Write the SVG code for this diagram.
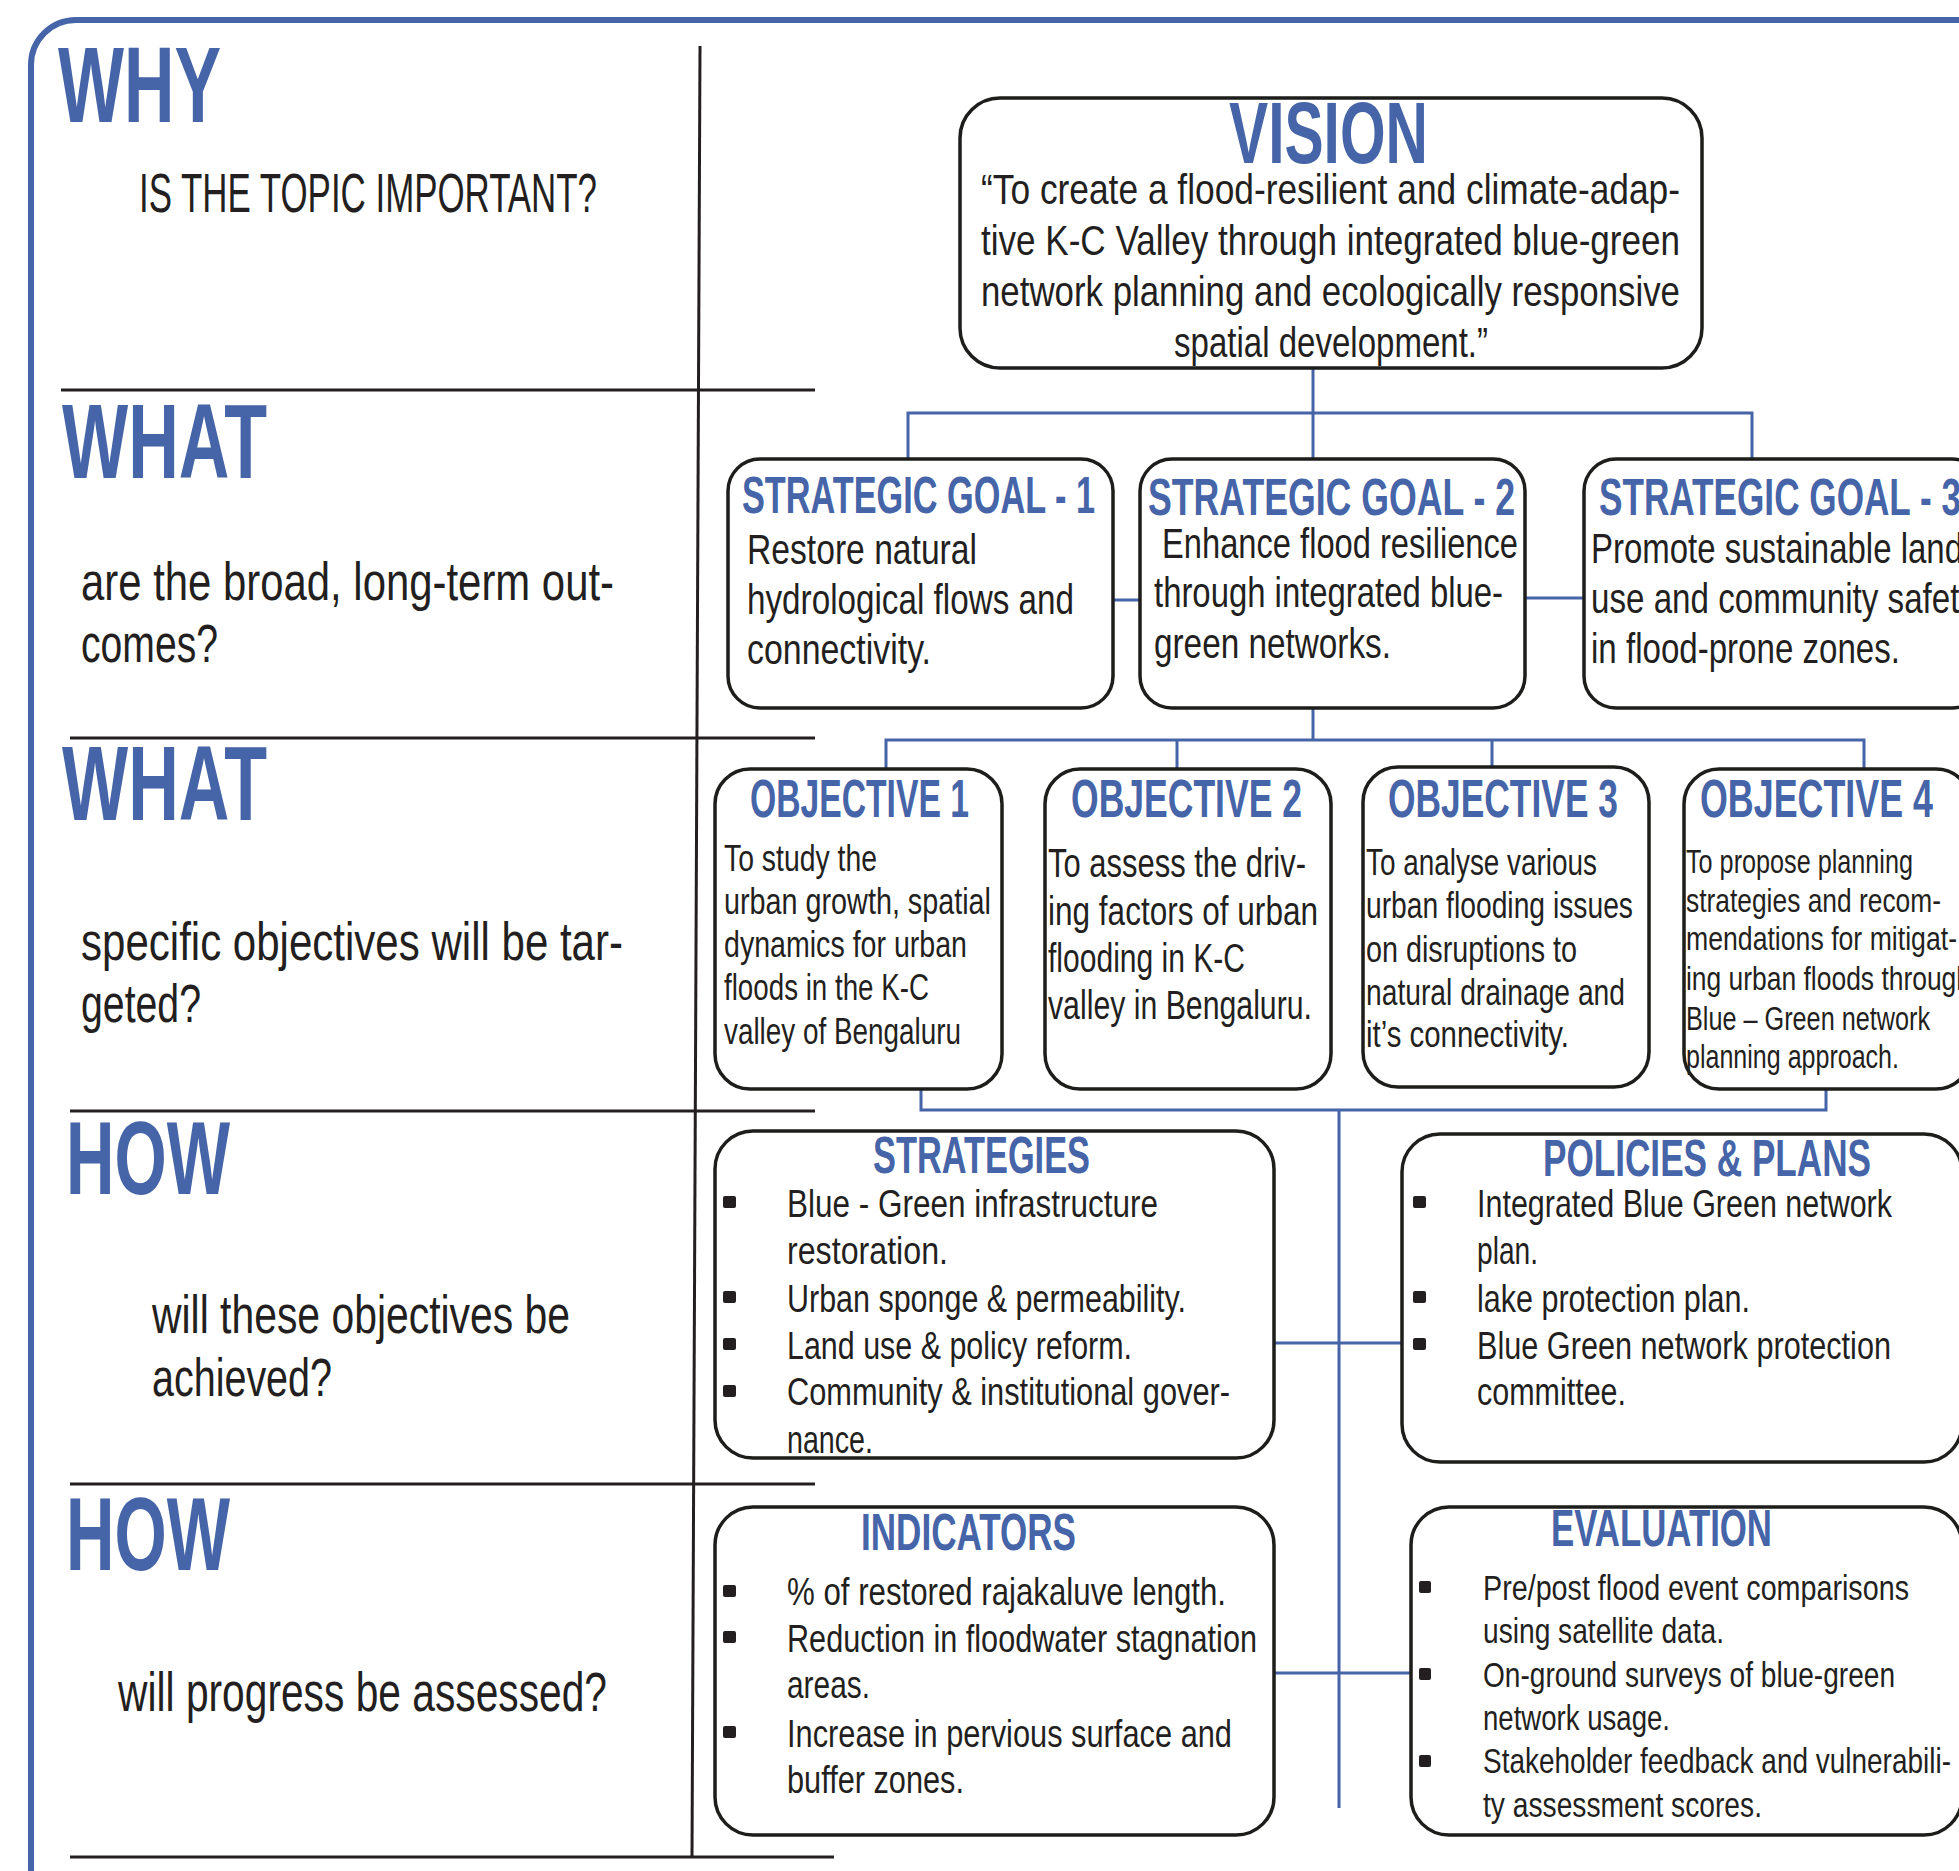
<svg xmlns="http://www.w3.org/2000/svg" width="1959" height="1871" viewBox="0 0 1959 1871">
  <defs>
    <style>
      .frame{fill:none;stroke:#4664a8;stroke-width:6}
      .rule{fill:none;stroke:#231f20;stroke-width:3}
      .conn{fill:none;stroke:#4664a8;stroke-width:3}
      .box{fill:#ffffff;stroke:#1d1d1b;stroke-width:3.5}
      .hd{font-family:"Liberation Sans Narrow","Liberation Sans","DejaVu Sans",sans-serif;font-weight:bold;fill:#4664a8}
      .tx{font-family:"Liberation Sans Narrow","Liberation Sans","DejaVu Sans",sans-serif;fill:#231f20}
      .bul{fill:#231f20}
    </style>
  </defs>
  <rect width="1959" height="1871" fill="#ffffff"/>

  <!-- outer frame -->
  <path class="frame" d="M31 1880 V65 A45 45 0 0 1 76 20 H1975"/>

  <!-- question column rules -->
  <g id="rules">
    <path class="rule" d="M700 46 L692 1857"/>
    <path class="rule" d="M61 390 H815"/>
    <path class="rule" d="M70 738 H815"/>
    <path class="rule" d="M70 1111 H815"/>
    <path class="rule" d="M70 1484 H815"/>
    <path class="rule" d="M70 1857 H834"/>
  </g>

  <!-- question labels -->
  <g id="q-why">
    <text class="hd" x="58" y="122" font-size="107" textLength="163" lengthAdjust="spacingAndGlyphs">WHY</text>
    <text class="tx" x="139" y="212" font-size="56" textLength="458" lengthAdjust="spacingAndGlyphs">IS THE TOPIC IMPORTANT?</text>
  </g>
  <g id="q-what-goals">
    <text class="hd" x="62" y="478" font-size="106" textLength="205" lengthAdjust="spacingAndGlyphs">WHAT</text>
    <text class="tx" x="81" y="600" font-size="54" textLength="533" lengthAdjust="spacingAndGlyphs">are the broad, long-term out-</text>
    <text class="tx" x="81" y="662" font-size="54" textLength="137" lengthAdjust="spacingAndGlyphs">comes?</text>
  </g>
  <g id="q-what-objectives">
    <text class="hd" x="62" y="820" font-size="106" textLength="205" lengthAdjust="spacingAndGlyphs">WHAT</text>
    <text class="tx" x="81" y="960" font-size="54" textLength="542" lengthAdjust="spacingAndGlyphs">specific objectives will be tar-</text>
    <text class="tx" x="81" y="1022" font-size="54" textLength="120" lengthAdjust="spacingAndGlyphs">geted?</text>
  </g>
  <g id="q-how-achieve">
    <text class="hd" x="66" y="1194" font-size="103" textLength="164" lengthAdjust="spacingAndGlyphs">HOW</text>
    <text class="tx" x="152" y="1333" font-size="54" textLength="418" lengthAdjust="spacingAndGlyphs">will these objectives be</text>
    <text class="tx" x="152" y="1396" font-size="54" textLength="180" lengthAdjust="spacingAndGlyphs">achieved?</text>
  </g>
  <g id="q-how-assess">
    <text class="hd" x="66" y="1570" font-size="103" textLength="164" lengthAdjust="spacingAndGlyphs">HOW</text>
    <text class="tx" x="118" y="1711" font-size="55" textLength="489" lengthAdjust="spacingAndGlyphs">will progress be assessed?</text>
  </g>

  <!-- connectors -->
  <g id="connectors">
    <path class="conn" d="M1313 368 V413"/>
    <path class="conn" d="M908 459 V413 H1752 V459"/>
    <path class="conn" d="M1313 413 V459"/>
    <path class="conn" d="M1113 600 H1140"/>
    <path class="conn" d="M1525 598 H1584"/>
    <path class="conn" d="M1313 708 V740"/>
    <path class="conn" d="M886 769 V740 H1864 V769"/>
    <path class="conn" d="M1177 740 V769"/>
    <path class="conn" d="M1492 740 V767"/>
    <path class="conn" d="M921 1089 V1110 H1826 V1089"/>
    <path class="conn" d="M1339 1110 V1808"/>
    <path class="conn" d="M1274 1343 H1402"/>
    <path class="conn" d="M1274 1673 H1411"/>
  </g>

  <!-- vision -->
  <g id="vision">
    <rect class="box" x="960" y="98" width="742" height="270" rx="40"/>
    <text class="hd" x="1229" y="163" font-size="88" textLength="199" lengthAdjust="spacingAndGlyphs">VISION</text>
    <text class="tx" x="981" y="204" font-size="42" textLength="699" lengthAdjust="spacingAndGlyphs">“To create a flood-resilient and climate-adap-</text>
    <text class="tx" x="981" y="255" font-size="42" textLength="699" lengthAdjust="spacingAndGlyphs">tive K-C Valley through integrated blue-green</text>
    <text class="tx" x="981" y="306" font-size="42" textLength="699" lengthAdjust="spacingAndGlyphs">network planning and ecologically responsive</text>
    <text class="tx" x="1174" y="357" font-size="42" textLength="314" lengthAdjust="spacingAndGlyphs">spatial development.”</text>
  </g>

  <!-- strategic goals -->
  <g id="goal-1">
    <rect class="box" x="728" y="459" width="385" height="249" rx="32"/>
    <text class="hd" x="742" y="513" font-size="51" textLength="353" lengthAdjust="spacingAndGlyphs">STRATEGIC GOAL - 1</text>
    <text class="tx" x="747" y="564" font-size="43" textLength="230" lengthAdjust="spacingAndGlyphs">Restore natural</text>
    <text class="tx" x="747" y="614" font-size="43" textLength="327" lengthAdjust="spacingAndGlyphs">hydrological flows and</text>
    <text class="tx" x="747" y="664" font-size="43" textLength="184" lengthAdjust="spacingAndGlyphs">connectivity.</text>
  </g>
  <g id="goal-2">
    <rect class="box" x="1140" y="459" width="385" height="249" rx="32"/>
    <text class="hd" x="1148" y="515" font-size="51" textLength="367" lengthAdjust="spacingAndGlyphs">STRATEGIC GOAL - 2</text>
    <text class="tx" x="1162" y="558" font-size="43" textLength="356" lengthAdjust="spacingAndGlyphs">Enhance flood resilience</text>
    <text class="tx" x="1154" y="607" font-size="43" textLength="349" lengthAdjust="spacingAndGlyphs">through integrated blue-</text>
    <text class="tx" x="1154" y="658" font-size="43" textLength="237" lengthAdjust="spacingAndGlyphs">green networks.</text>
  </g>
  <g id="goal-3">
    <rect class="box" x="1584" y="459" width="400" height="249" rx="32"/>
    <text class="hd" x="1599" y="515" font-size="51" textLength="362" lengthAdjust="spacingAndGlyphs">STRATEGIC GOAL - 3</text>
    <text class="tx" x="1591" y="563" font-size="43" textLength="372" lengthAdjust="spacingAndGlyphs">Promote sustainable land</text>
    <text class="tx" x="1591" y="613" font-size="43" textLength="385" lengthAdjust="spacingAndGlyphs">use and community safety</text>
    <text class="tx" x="1591" y="663" font-size="43" textLength="309" lengthAdjust="spacingAndGlyphs">in flood-prone zones.</text>
  </g>

  <!-- objectives -->
  <g id="objective-1">
    <rect class="box" x="715" y="769" width="287" height="320" rx="35"/>
    <text class="hd" x="750" y="817" font-size="53" textLength="219" lengthAdjust="spacingAndGlyphs">OBJECTIVE 1</text>
    <text class="tx" x="724" y="871" font-size="37" textLength="153" lengthAdjust="spacingAndGlyphs">To study the</text>
    <text class="tx" x="724" y="914" font-size="37" textLength="267" lengthAdjust="spacingAndGlyphs">urban growth, spatial</text>
    <text class="tx" x="724" y="957" font-size="37" textLength="243" lengthAdjust="spacingAndGlyphs">dynamics for urban</text>
    <text class="tx" x="724" y="1000" font-size="37" textLength="205" lengthAdjust="spacingAndGlyphs">floods in the K-C</text>
    <text class="tx" x="724" y="1044" font-size="37" textLength="237" lengthAdjust="spacingAndGlyphs">valley of Bengaluru</text>
  </g>
  <g id="objective-2">
    <rect class="box" x="1045" y="769" width="286" height="320" rx="35"/>
    <text class="hd" x="1071" y="817" font-size="53" textLength="231" lengthAdjust="spacingAndGlyphs">OBJECTIVE 2</text>
    <text class="tx" x="1048" y="877" font-size="40" textLength="258" lengthAdjust="spacingAndGlyphs">To assess the driv-</text>
    <text class="tx" x="1048" y="925" font-size="40" textLength="270" lengthAdjust="spacingAndGlyphs">ing factors of urban</text>
    <text class="tx" x="1048" y="972" font-size="40" textLength="197" lengthAdjust="spacingAndGlyphs">flooding in K-C</text>
    <text class="tx" x="1048" y="1019" font-size="40" textLength="264" lengthAdjust="spacingAndGlyphs">valley in Bengaluru.</text>
  </g>
  <g id="objective-3">
    <rect class="box" x="1363" y="767" width="286" height="320" rx="35"/>
    <text class="hd" x="1388" y="817" font-size="53" textLength="230" lengthAdjust="spacingAndGlyphs">OBJECTIVE 3</text>
    <text class="tx" x="1366" y="875" font-size="37" textLength="231" lengthAdjust="spacingAndGlyphs">To analyse various</text>
    <text class="tx" x="1366" y="918" font-size="37" textLength="267" lengthAdjust="spacingAndGlyphs">urban flooding issues</text>
    <text class="tx" x="1366" y="962" font-size="37" textLength="211" lengthAdjust="spacingAndGlyphs">on disruptions to</text>
    <text class="tx" x="1366" y="1005" font-size="37" textLength="259" lengthAdjust="spacingAndGlyphs">natural drainage and</text>
    <text class="tx" x="1366" y="1047" font-size="37" textLength="203" lengthAdjust="spacingAndGlyphs">it’s connectivity.</text>
  </g>
  <g id="objective-4">
    <rect class="box" x="1684" y="769" width="287" height="320" rx="35"/>
    <text class="hd" x="1700" y="817" font-size="53" textLength="233" lengthAdjust="spacingAndGlyphs">OBJECTIVE 4</text>
    <text class="tx" x="1686" y="873" font-size="34" textLength="227" lengthAdjust="spacingAndGlyphs">To propose planning</text>
    <text class="tx" x="1686" y="912" font-size="34" textLength="255" lengthAdjust="spacingAndGlyphs">strategies and recom-</text>
    <text class="tx" x="1686" y="950" font-size="34" textLength="271" lengthAdjust="spacingAndGlyphs">mendations for mitigat-</text>
    <text class="tx" x="1686" y="990" font-size="34" textLength="285" lengthAdjust="spacingAndGlyphs">ing urban floods through</text>
    <text class="tx" x="1686" y="1030" font-size="34" textLength="244" lengthAdjust="spacingAndGlyphs">Blue – Green network</text>
    <text class="tx" x="1686" y="1068" font-size="34" textLength="213" lengthAdjust="spacingAndGlyphs">planning approach.</text>
  </g>

  <!-- strategies -->
  <g id="strategies">
    <rect class="box" x="715" y="1131" width="559" height="327" rx="38"/>
    <text class="hd" x="873" y="1173" font-size="51" textLength="217" lengthAdjust="spacingAndGlyphs">STRATEGIES</text>
    <rect class="bul" x="723" y="1196" width="13" height="12" rx="2"/>
    <rect class="bul" x="723" y="1291" width="13" height="12" rx="2"/>
    <rect class="bul" x="723" y="1338" width="13" height="12" rx="2"/>
    <rect class="bul" x="723" y="1385" width="13" height="12" rx="2"/>
    <text class="tx" x="787" y="1217" font-size="38" textLength="371" lengthAdjust="spacingAndGlyphs">Blue - Green infrastructure</text>
    <text class="tx" x="787" y="1264" font-size="38" textLength="161" lengthAdjust="spacingAndGlyphs">restoration.</text>
    <text class="tx" x="787" y="1312" font-size="38" textLength="399" lengthAdjust="spacingAndGlyphs">Urban sponge &amp; permeability.</text>
    <text class="tx" x="787" y="1359" font-size="38" textLength="345" lengthAdjust="spacingAndGlyphs">Land use &amp; policy reform.</text>
    <text class="tx" x="787" y="1405" font-size="38" textLength="443" lengthAdjust="spacingAndGlyphs">Community &amp; institutional gover-</text>
    <text class="tx" x="787" y="1453" font-size="38" textLength="86" lengthAdjust="spacingAndGlyphs">nance.</text>
  </g>

  <!-- policies and plans -->
  <g id="policies">
    <rect class="box" x="1402" y="1134" width="560" height="328" rx="38"/>
    <text class="hd" x="1543" y="1176" font-size="51" textLength="328" lengthAdjust="spacingAndGlyphs">POLICIES &amp; PLANS</text>
    <rect class="bul" x="1413" y="1196" width="13" height="12" rx="2"/>
    <rect class="bul" x="1413" y="1291" width="13" height="12" rx="2"/>
    <rect class="bul" x="1413" y="1338" width="13" height="12" rx="2"/>
    <text class="tx" x="1477" y="1217" font-size="39" textLength="415" lengthAdjust="spacingAndGlyphs">Integrated Blue Green network</text>
    <text class="tx" x="1477" y="1264" font-size="39" textLength="61" lengthAdjust="spacingAndGlyphs">plan.</text>
    <text class="tx" x="1477" y="1312" font-size="39" textLength="273" lengthAdjust="spacingAndGlyphs">lake protection plan.</text>
    <text class="tx" x="1477" y="1359" font-size="39" textLength="414" lengthAdjust="spacingAndGlyphs">Blue Green network protection</text>
    <text class="tx" x="1477" y="1405" font-size="39" textLength="149" lengthAdjust="spacingAndGlyphs">committee.</text>
  </g>

  <!-- indicators -->
  <g id="indicators">
    <rect class="box" x="715" y="1507" width="559" height="328" rx="38"/>
    <text class="hd" x="861" y="1550" font-size="51" textLength="215" lengthAdjust="spacingAndGlyphs">INDICATORS</text>
    <rect class="bul" x="723" y="1585" width="13" height="12" rx="2"/>
    <rect class="bul" x="723" y="1631" width="13" height="12" rx="2"/>
    <rect class="bul" x="723" y="1726" width="13" height="12" rx="2"/>
    <text class="tx" x="787" y="1605" font-size="39" textLength="439" lengthAdjust="spacingAndGlyphs">% of restored rajakaluve length.</text>
    <text class="tx" x="787" y="1652" font-size="39" textLength="470" lengthAdjust="spacingAndGlyphs">Reduction in floodwater stagnation</text>
    <text class="tx" x="787" y="1698" font-size="39" textLength="83" lengthAdjust="spacingAndGlyphs">areas.</text>
    <text class="tx" x="787" y="1747" font-size="39" textLength="445" lengthAdjust="spacingAndGlyphs">Increase in pervious surface and</text>
    <text class="tx" x="787" y="1793" font-size="39" textLength="177" lengthAdjust="spacingAndGlyphs">buffer zones.</text>
  </g>

  <!-- evaluation -->
  <g id="evaluation">
    <rect class="box" x="1411" y="1507" width="551" height="328" rx="38"/>
    <text class="hd" x="1551" y="1546" font-size="51" textLength="221" lengthAdjust="spacingAndGlyphs">EVALUATION</text>
    <rect class="bul" x="1419" y="1581" width="12" height="12" rx="2"/>
    <rect class="bul" x="1419" y="1668" width="12" height="12" rx="2"/>
    <rect class="bul" x="1419" y="1755" width="12" height="12" rx="2"/>
    <text class="tx" x="1483" y="1600" font-size="35" textLength="426" lengthAdjust="spacingAndGlyphs">Pre/post flood event comparisons</text>
    <text class="tx" x="1483" y="1643" font-size="35" textLength="241" lengthAdjust="spacingAndGlyphs">using satellite data.</text>
    <text class="tx" x="1483" y="1687" font-size="35" textLength="412" lengthAdjust="spacingAndGlyphs">On-ground surveys of blue-green</text>
    <text class="tx" x="1483" y="1730" font-size="35" textLength="187" lengthAdjust="spacingAndGlyphs">network usage.</text>
    <text class="tx" x="1483" y="1773" font-size="35" textLength="468" lengthAdjust="spacingAndGlyphs">Stakeholder feedback and vulnerabili-</text>
    <text class="tx" x="1483" y="1817" font-size="35" textLength="279" lengthAdjust="spacingAndGlyphs">ty assessment scores.</text>
  </g>
</svg>
